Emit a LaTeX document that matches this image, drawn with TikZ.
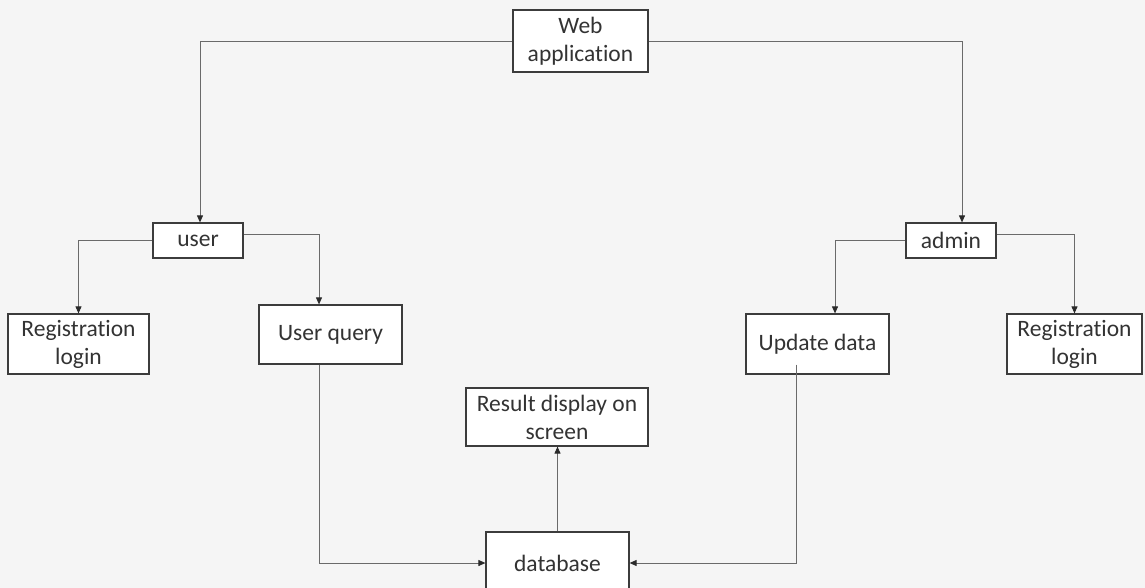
\documentclass[tikz,border=0pt]{standalone}
\usepackage{fontspec}
\setmainfont{Carlito}[RawFeature=-liga]
\usetikzlibrary{arrows.meta,calc}
\definecolor{bg}{HTML}{F5F5F5}
\definecolor{edgec}{HTML}{3C3C3C}
\definecolor{connc}{HTML}{6A6A6A}
\definecolor{tipc}{HTML}{2A2A2A}
\definecolor{txtc}{HTML}{333333}
\begin{document}
\begin{tikzpicture}[x=1pt,y=-1pt,
  box/.style={draw=edgec,line width=1.2pt,fill=white,text=txtc,align=center,inner sep=0pt,font=\fontsize{23.5}{28}\selectfont},
  conn/.style={draw=connc,line width=0.9pt,-{Triangle[length=7pt,width=6pt,color=tipc]}}]
\clip (0,0) rectangle (1145,588);
\fill[bg] (0,0) rectangle (1145,588);
\node[box,minimum width=135pt,minimum height=62pt] (web) at (580.5,41) {Web\\application};
\node[box,minimum width=90pt,minimum height=35pt] (user) at (198,240.5) {user};
\node[box,minimum width=90pt,minimum height=35pt] (admin) at (951,240.5) {admin};
\node[box,minimum width=141pt,minimum height=60pt] (reg1) at (78.5,344) {Registration\\login};
\node[box,minimum width=143pt,minimum height=59pt] (uq) at (330.5,334.5) {User query};
\node[box,minimum width=143pt,minimum height=60pt] (ud) at (817.5,344) {Update data};
\node[box,minimum width=135pt,minimum height=60pt] (reg2) at (1074.5,344) {Registration\\login};
\node[box,minimum width=182pt,minimum height=58pt] (result) at (557,417) {Result display on\\screen};
\node[box,minimum width=143pt,minimum height=62pt] (db) at (557.5,563) {database};
\draw[conn] (web.west) -| ([xshift=2pt]user.north);
\draw[conn] (web.east) -| ([xshift=11pt]admin.north);
\draw[conn] (user.west) -| (reg1.north);
\draw[conn] ([yshift=6.5pt]user.east) -| ([xshift=-11.5pt]uq.north);
\draw[conn] (admin.west) -| ([xshift=17.5pt]ud.north);
\draw[conn] ([yshift=6.5pt]admin.east) -| (reg2.north);
\draw[conn] ([xshift=-11.5pt]uq.south) |- (db.west);
\draw[conn] ([xshift=-21.5pt,yshift=10pt]ud.south) |- (db.east);
\draw[conn] (db.north) -- (db.north |- result.south);
\end{tikzpicture}
\end{document}
